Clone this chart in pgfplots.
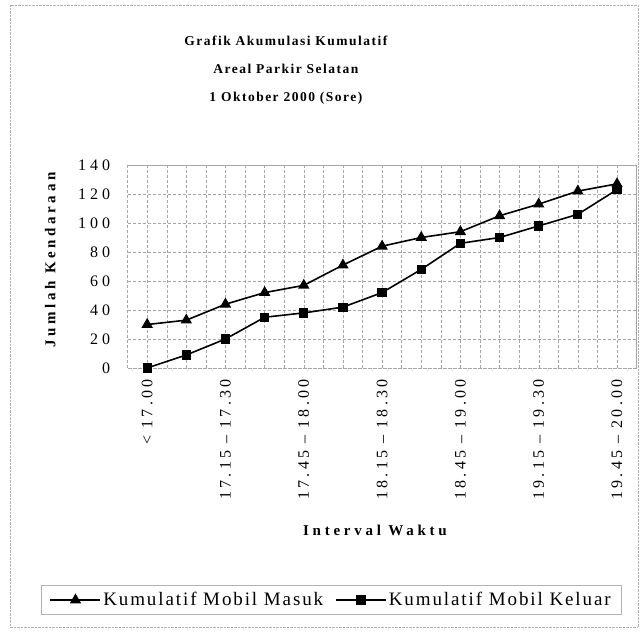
\documentclass[border=0pt]{standalone}
\usepackage{fontspec}
\setmainfont{Liberation Serif}
\usepackage{pgfplots}
\pgfplotsset{compat=1.18}
\begin{document}
\begin{tikzpicture}[x=1pt,y=1pt]
\path (0,0) rectangle (641,-633);
\draw[gray!60, densely dotted] (10,-5) rectangle (638,-627);
\begin{axis}[
  at={(127.6pt,-368pt)}, anchor=south west,
  scale only axis, width=509pt, height=203pt,
  xmin=-0.5, xmax=12.5, ymin=0, ymax=140,
  xtick={0,2,...,12},
  xticklabels={{< 17.00},{17.15 -- 17.30},{17.45 -- 18.00},{18.15 -- 18.30},{18.45 -- 19.00},{19.15 -- 19.30},{19.45 -- 20.00}},
  minor xtick={-0.5,0,...,12.5},
  ytick={0,20,...,140},
  grid=both,
  grid style={densely dashed, gray!70, line width=0.4pt},
  minor grid style={densely dashed, gray!70, line width=0.4pt},
  axis line style={densely dashed, gray!70, line width=0.4pt},
  major tick length=3pt, minor tick length=0pt,
  tick style={gray!70},
  /pgf/number format/assume math mode=true,
  yticklabel style={font=\fontsize{16}{16}\selectfont\addfontfeatures{LetterSpace=25}},
  yticklabel shift=14pt,
  xticklabel style={rotate=90, anchor=east, font=\fontsize{16}{16}\selectfont\addfontfeatures{LetterSpace=20}},
  xticklabel shift=8pt,
  title={Grafik Akumulasi Kumulatif\\Areal Parkir Selatan\\1 Oktober 2000 (Sore)},
  title style={at={(0.311,1.438)}, anchor=center, align=center, font=\bfseries\fontsize{13.5}{28}\selectfont\addfontfeatures{LetterSpace=11}},
  ylabel={Jumlah Kendaraan},
  ylabel style={at={(-0.152,0.532)}, anchor=center, font=\bfseries\fontsize{15}{15}\selectfont\addfontfeatures{LetterSpace=24}},
  xlabel={Interval Waktu},
  xlabel style={at={(0.486,-0.798)}, anchor=center, font=\bfseries\fontsize{15}{15}\selectfont\addfontfeatures{LetterSpace=25}},
  legend columns=2,
  legend style={at={(0.4,-1.143)}, anchor=center, draw=gray!60, line width=0.4pt,
    font=\fontsize{19}{19}\selectfont\addfontfeatures{LetterSpace=10},
    inner xsep=8pt, inner ysep=5pt,
    /tikz/every even column/.append style={column sep=10pt}},
  legend image code/.code={\draw[mark repeat=2,mark phase=2,#1] plot coordinates {(0pt,0pt) (25pt,0pt) (50pt,0pt)};},
]
\addplot[black, line width=1.6pt, mark=triangle*, mark size=5pt, mark options={solid}] coordinates {
(0,30) (1,33) (2,44) (3,52) (4,57) (5,71) (6,84) (7,90) (8,94) (9,105) (10,113) (11,122) (12,127)};
\addlegendentry{Kumulatif Mobil Masuk}
\addplot[black, line width=1.6pt, mark=square*, mark size=3.8pt, mark options={solid}] coordinates {
(0,0) (1,9) (2,20) (3,35) (4,38) (5,42) (6,52) (7,68) (8,86) (9,90) (10,98) (11,106) (12,123)};
\addlegendentry{Kumulatif Mobil Keluar}
\end{axis}
\end{tikzpicture}
\end{document}
